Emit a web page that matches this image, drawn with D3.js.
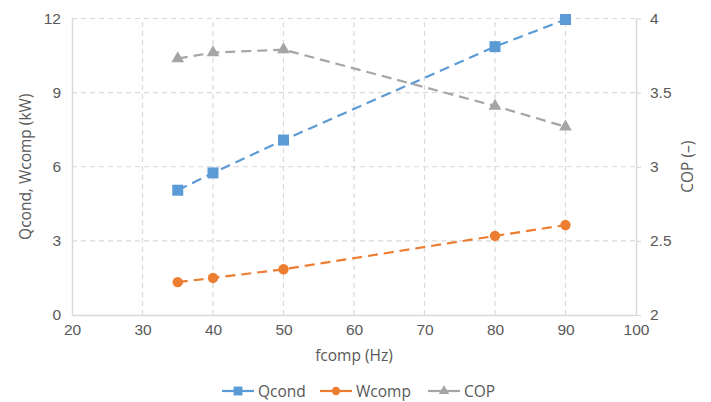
<!DOCTYPE html>
<html>
<head>
<meta charset="utf-8">
<script src="https://cdn.jsdelivr.net/npm/d3@7"></script>
<style>
  html, body { margin: 0; padding: 0; background: #fff; }
  svg { display: block; font-family: "Open Sans", "Noto Sans", sans-serif; }
</style>
</head>
<body>
<svg id="chart" width="711" height="402"></svg>
<script>
// Compressor frequency sweep: condenser heat, compressor power and COP
const freq = [35, 40, 50, 80, 90];
const qcond = [5.05, 5.75, 7.08, 10.86, 11.96];
const wcomp = [1.33, 1.5, 1.85, 3.2, 3.64];
const cop = [3.73, 3.77, 3.79, 3.41, 3.27];

const xTicks = [20, 30, 40, 50, 60, 70, 80, 90, 100];
const yLeftTicks = [0, 3, 6, 9, 12];
const yRightTicks = [2, 2.5, 3, 3.5, 4];

const seriesNames = ["Qcond", "Wcomp", "COP"];
const seriesColors = ["#5B9BD5", "#ED7D31", "#A5A5A5"];

const svg = d3.select("#chart");
const margin = { left: 72, right: 75, top: 18.5, bottom: 87 };
const W = 711, H = 402;
const x0 = margin.left, x1 = W - margin.right;
const y0 = H - margin.bottom, y1 = margin.top;

const x = d3.scaleLinear().domain([20, 100]).range([x0, x1]);
const yL = d3.scaleLinear().domain([0, 12]).range([y0, y1]);
const yR = d3.scaleLinear().domain([2, 4]).range([y0, y1]);

const gridColor = "#D9D9D9";
const textColor = "#595959";
const tickFont = 15.5;
const titleFont = 15.5;

// Grid lines
const grid = svg.append("g");
grid.selectAll("line.h").data(yLeftTicks.filter(d => d > 0)).join("line")
  .attr("x1", x0).attr("x2", x1)
  .attr("y1", d => yL(d)).attr("y2", d => yL(d))
  .attr("stroke", gridColor).attr("stroke-width", 1.2).attr("stroke-dasharray", "5,4");
grid.selectAll("line.v").data(xTicks.filter(d => d > 20 && d < 100)).join("line")
  .attr("y1", y0).attr("y2", y1)
  .attr("x1", d => x(d)).attr("x2", d => x(d))
  .attr("stroke", gridColor).attr("stroke-width", 1.2).attr("stroke-dasharray", "5,4");

// Axes
const axisStyle = keepTicks => g => {
  g.select(".domain").attr("stroke", gridColor).attr("stroke-width", 1.5);
  if (keepTicks) g.selectAll(".tick line").attr("stroke", gridColor).attr("stroke-width", 1.2);
  else g.selectAll(".tick line").remove();
  g.selectAll(".tick text").attr("fill", textColor).attr("font-size", tickFont);
};
svg.append("g").attr("transform", `translate(0,${y0})`)
  .call(d3.axisBottom(x).tickValues(xTicks).tickSize(0).tickSizeOuter(0).tickPadding(9))
  .call(axisStyle(false));
svg.append("g").attr("transform", `translate(${x0},0)`)
  .call(d3.axisLeft(yL).tickValues(yLeftTicks).tickSize(0).tickSizeOuter(0).tickPadding(11))
  .call(axisStyle(false));
svg.append("g").attr("transform", `translate(${x1},0)`)
  .call(d3.axisRight(yR).tickValues(yRightTicks).tickSize(5).tickSizeOuter(0).tickPadding(9).tickFormat(d3.format("")))
  .call(axisStyle(true));

// Axis titles
svg.append("text").attr("x", (x0 + x1) / 2).attr("y", 361)
  .attr("text-anchor", "middle").attr("fill", textColor).attr("font-size", titleFont)
  .text("fcomp (Hz)");
svg.append("text").attr("transform", `translate(31,${(y0 + y1) / 2}) rotate(-90)`)
  .attr("text-anchor", "middle").attr("fill", textColor).attr("font-size", titleFont)
  .text("Qcond, Wcomp (kW)");
svg.append("text").attr("transform", `translate(693,${(y0 + y1) / 2}) rotate(-90)`)
  .attr("text-anchor", "middle").attr("fill", textColor).attr("font-size", titleFont)
  .text("COP (–)");

// Series
const series = [
  { name: seriesNames[0], color: seriesColors[0], vals: qcond, y: yL, shape: d3.symbolSquare, size: 121 },
  { name: seriesNames[1], color: seriesColors[1], vals: wcomp, y: yL, shape: d3.symbolCircle, size: 85 },
  { name: seriesNames[2], color: seriesColors[2], vals: cop, y: yR, shape: d3.symbolTriangle, size: 70 }
];

series.forEach(s => {
  const pts = freq.map((f, i) => [f, s.vals[i]]);
  const line = d3.line().x(d => x(d[0])).y(d => s.y(d[1]));
  svg.append("path").datum(pts).attr("d", line)
    .attr("fill", "none").attr("stroke", s.color).attr("stroke-width", 2.2)
    .attr("stroke-dasharray", "10,6");
  svg.append("g").selectAll("path").data(pts).join("path")
    .attr("transform", d => `translate(${x(d[0])},${s.y(d[1])})`)
    .attr("d", d3.symbol().type(s.shape).size(s.size))
    .attr("fill", s.color);
});

// Legend
const legend = svg.append("g").attr("transform", "translate(0,391)");
const legendX = [222, 320, 428];
series.forEach((s, i) => {
  const g = legend.append("g").attr("transform", `translate(${legendX[i]},0)`);
  g.append("line").attr("x1", 0).attr("x2", 32).attr("y1", 0).attr("y2", 0)
    .attr("stroke", s.color).attr("stroke-width", 2.2);
  g.append("path").attr("transform", "translate(16,0)")
    .attr("d", d3.symbol().type(s.shape).size(s.size * 0.65)).attr("fill", s.color);
  g.append("text").attr("x", 36).attr("y", 5.5).attr("fill", textColor).attr("font-size", titleFont)
    .text(s.name);
});
</script>
</body>
</html>
